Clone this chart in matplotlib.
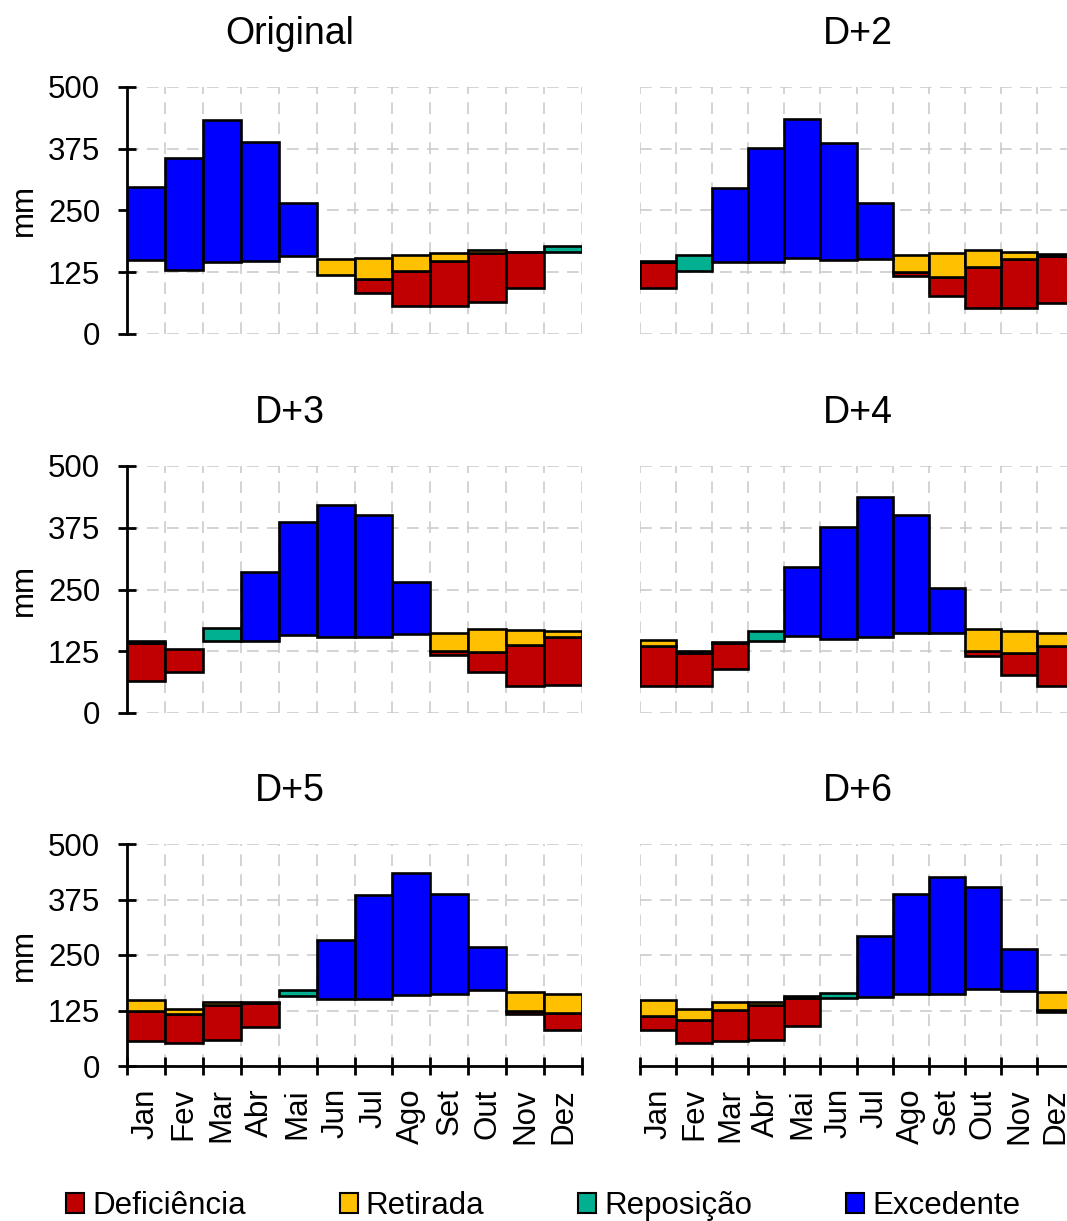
import matplotlib
matplotlib.use('Agg')
import matplotlib.pyplot as plt
from matplotlib.patches import Patch

plt.rcParams['font.family'] = ['Liberation Sans', 'DejaVu Sans']

months = ['Jan', 'Fev', 'Mar', 'Abr', 'Mai', 'Jun', 'Jul', 'Ago', 'Set', 'Out', 'Nov', 'Dez']
series_names = ['Deficiência', 'Retirada', 'Reposição', 'Excedente']
series_colors = ['#C00000', '#FFC000', '#00B090', '#0000FF']
panel_titles = ['Original', 'D+2', 'D+3', 'D+4', 'D+5', 'D+6']
y_ticks = [0, 125, 250, 375, 500]

N = None
# each entry: (bottom, top) in mm ; None = no bar that month
orig_def = [N, N, N, N, N, N, (82, 111), (56, 128), (56, 148), (64, 164), (93, 165), N]
orig_ret = [N, N, N, N, N, (119, 151), (111, 154), (128, 160), (148, 163), (164, 170), (165, 167), N]
orig_rep = [N, N, N, N, N, N, N, N, N, N, N, (165, 178)]
orig_exc = [(149, 297), (129, 356), (145, 433), (147, 388), (158, 266), N, N, N, N, N, N, N]

d2_def = [(93, 145), N, N, N, N, N, N, (118, 125), (77, 116), (53, 136), (52, 152), (62, 157)]
d2_ret = [(145, 147), N, N, N, N, N, N, (125, 160), (116, 163), (136, 170), (152, 166), (157, 162)]
d2_rep = [N, (127, 160), N, N, N, N, N, N, N, N, N, N]
d2_exc = [N, N, (145, 295), (145, 376), (154, 436), (150, 387), (152, 266), N, N, N, N, N]

d3_def = [(64, 141), (82, 129), N, N, N, N, N, N, (117, 125), (82, 124), (55, 137), (57, 153)]
d3_ret = [(141, 146), N, N, N, N, N, N, N, (125, 162), (124, 170), (137, 168), (153, 165)]
d3_rep = [N, N, (146, 173), N, N, N, N, N, N, N, N, N]
d3_exc = [N, N, N, (146, 285), (157, 386), (153, 422), (153, 401), (160, 266), N, N, N, N]

d4_def = [(55, 135), (55, 121), (90, 141), N, N, N, N, N, N, (116, 126), (77, 121), (55, 135)]
d4_ret = [(135, 147), (121, 126), (141, 144), N, N, N, N, N, N, (126, 170), (121, 165), (135, 161)]
d4_rep = [N, N, N, (146, 166), N, N, N, N, N, N, N, N]
d4_exc = [N, N, N, N, (155, 295), (150, 376), (153, 438), (161, 401), (161, 253), N, N, N]

d5_def = [(56, 123), (52, 116), (59, 138), (88, 141), N, N, N, N, N, N, (117, 125), (82, 119)]
d5_ret = [(123, 149), (116, 129), (138, 145), (141, 145), N, N, N, N, N, N, (125, 166), (119, 163)]
d5_rep = [N, N, N, N, (157, 172), N, N, N, N, N, N, N]
d5_exc = [N, N, N, N, N, (152, 284), (152, 385), (159, 434), (162, 388), (172, 267), N, N]

d6_def = [(82, 112), (52, 103), (56, 127), (59, 137), (91, 153), N, N, N, N, N, N, (121, 127)]
d6_ret = [(112, 149), (103, 128), (127, 145), (137, 144), (153, 157), N, N, N, N, N, N, (127, 166)]
d6_rep = [N, N, N, N, N, (154, 165), N, N, N, N, N, N]
d6_exc = [N, N, N, N, N, N, (155, 292), (163, 388), (163, 426), (173, 403), (169, 264), N]

panels = [
    (orig_def, orig_ret, orig_rep, orig_exc),
    (d2_def, d2_ret, d2_rep, d2_exc),
    (d3_def, d3_ret, d3_rep, d3_exc),
    (d4_def, d4_ret, d4_rep, d4_exc),
    (d5_def, d5_ret, d5_rep, d5_exc),
    (d6_def, d6_ret, d6_rep, d6_exc),
]

W, H = 1067, 1221
fig = plt.figure(figsize=(W / 100, H / 100), dpi=100)

col_left_px = [127, 640]
col_w_px = [455, 433]
row_px = [(87, 334), (466, 713), (844, 1066)]
title_x_px = [289.5, 857.5]

FS = 22.5
for idx, data in enumerate(panels):
    r, c = divmod(idx, 2)
    top_px, bot_px = row_px[r]
    ax = fig.add_axes([col_left_px[c] / W, 1 - bot_px / H, col_w_px[c] / W, (bot_px - top_px) / H])
    for sdata, color in zip(data, series_colors):
        xs, hs, bs = [], [], []
        for i, v in enumerate(sdata):
            if v is None:
                continue
            xs.append(i + 0.5)
            bs.append(v[0])
            hs.append(v[1] - v[0])
        if xs:
            ax.bar(xs, hs, bottom=bs, width=1.0, color=color, edgecolor='black',
                   linewidth=1.9, zorder=3)
    ax.set_xlim(0, 12)
    ax.set_ylim(0, 500)
    ax.set_xticks(range(13))
    ax.set_xticks([i + 0.5 for i in range(12)], minor=True)
    ax.set_yticks(y_ticks)
    ax.set_axisbelow(True)
    ax.grid(True, which='major', color='#CCCCCC', linewidth=1.2, linestyle=(0, (7, 5)))
    ax.grid(False, which='minor')
    for s in ['top', 'right']:
        ax.spines[s].set_visible(False)
    if c == 0:
        ax.spines['left'].set_linewidth(2.0)
        ax.tick_params(axis='y', direction='inout', length=13.5, width=2.0,
                       labelsize=FS, pad=12.5)
        fig.text(23.5 / W, 1 - (top_px + bot_px) / 2 / H, 'mm', rotation=90,
                 ha='center', va='center', fontsize=FS)
    else:
        ax.spines['left'].set_visible(False)
        ax.tick_params(axis='y', length=0, labelleft=False)
    if r == 2:
        ax.spines['bottom'].set_linewidth(2.0)
        ax.tick_params(axis='x', which='major', direction='inout', length=13.5,
                       width=2.0, labelbottom=False)
        ax.tick_params(axis='x', which='minor', length=0, pad=16, labelsize=FS)
        ax.set_xticklabels(months, minor=True, rotation=90)
    else:
        ax.spines['bottom'].set_visible(False)
        ax.tick_params(axis='x', which='both', length=0, labelbottom=False)
    fig.text(title_x_px[c] / W, 1 - (top_px - 43) / H, panel_titles[idx],
             ha='center', va='baseline', fontsize=27)

handles = [Patch(facecolor=col, edgecolor='black', linewidth=1.5) for col in series_colors]
fig.legend(handles, series_names, loc='center left', bbox_to_anchor=(66 / W, 1 - 1206 / H),
           ncol=4, frameon=False, fontsize=FS, handlelength=0.58, handleheight=0.58,
           handletextpad=0.26, columnspacing=3.0, borderpad=0, borderaxespad=0)

fig.savefig('out.png', dpi=100)
